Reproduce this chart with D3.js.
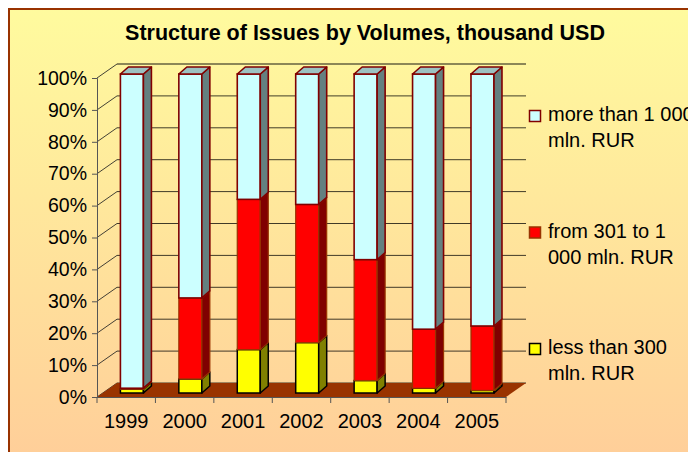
<!DOCTYPE html>
<html>
<head>
<meta charset="utf-8">
<script src="https://cdn.jsdelivr.net/npm/d3@7"></script>
<style>
  body { margin: 0; background: #fff; }
  svg { display: block; font-family: "Liberation Sans", Arial, sans-serif; }
</style>
</head>
<body>
<svg id="chart" width="688" height="452"></svg>
<script>
// values, percent of issues per year
const years = ['1999', '2000', '2001', '2002', '2003', '2004', '2005'];
const lessThan300 = [1.2, 4.4, 13.6, 15.8, 3.9, 1.5, 0.8];
const from301to1000 = [0.3, 25.4, 47.1, 43.3, 37.9, 18.5, 20.2];
const moreThan1000 = [98.5, 70.2, 39.3, 40.9, 58.2, 80.0, 79.0];
const seriesKeys = ['less', 'mid', 'more'];
const legendLabels = [
    ['more than 1 000', 'mln. RUR'],
    ['from 301 to 1', '000 mln. RUR'],
    ['less than 300', 'mln. RUR']
];
const yTicks = [0, 10, 20, 30, 40, 50, 60, 70, 80, 90, 100];
const title = 'Structure of Issues by Volumes, thousand USD';

// colours for each series: front, side, top, border
const styles = {
    less: { front: '#FFFF00', side: '#808000', top: '#CCCC00', stroke: '#000000', sw: 1.5 },
    mid:  { front: '#FF0000', side: '#800000', top: '#CC0000', stroke: '#993300', sw: 1.2 },
    more: { front: '#CCFFFF', side: '#648080', top: '#9CC2C2', stroke: '#800000', sw: 1.6 }
};

const width = 688;
const height = 452;
const depthX = 20, depthY = -14;      // depth of the 3d box
const barShiftX = 5.7, barShiftY = -4; // bars sit a bit behind the front plane
const barW = 23, barDX = 8, barDY = -7;

const svg = d3.select('#chart');

const defs = svg.append('defs');
const grad = defs.append('linearGradient')
    .attr('id', 'bg')
    .attr('x1', 0).attr('y1', 0).attr('x2', 0).attr('y2', 1);
grad.append('stop').attr('offset', 0).attr('stop-color', '#FFFB9E');
grad.append('stop').attr('offset', 1).attr('stop-color', '#FFCC99');

svg.append('rect')
    .attr('width', width).attr('height', height)
    .attr('fill', '#fff');

// chart area, runs off the right and bottom edge
svg.append('rect')
    .attr('x', 9).attr('y', 9)
    .attr('width', width + 20).attr('height', height + 20)
    .attr('fill', 'url(#bg)')
    .attr('stroke', '#993300')
    .attr('stroke-width', 2);

svg.append('text')
    .attr('x', 365).attr('y', 40)
    .attr('text-anchor', 'middle')
    .attr('font-size', 21.5)
    .attr('font-weight', 'bold')
    .attr('fill', '#000')
    .text(title);

const x = d3.scaleBand().domain(years).range([97, 506]);
const y = d3.scaleLinear().domain([0, 100]).range([397, 78]);

const x0 = x.range()[0], x1 = x.range()[1];

// back wall gridlines and side wall diagonals
const walls = svg.append('g');
yTicks.forEach(t => {
    walls.append('line')
        .attr('x1', x0 + depthX).attr('x2', x1 + depthX)
        .attr('y1', y(t) + depthY).attr('y2', y(t) + depthY)
        .attr('stroke', '#000')
        .attr('stroke-opacity', t === 100 ? 0.9 : 0.75);
    walls.append('line')
        .attr('x1', x0).attr('y1', y(t))
        .attr('x2', x0 + depthX).attr('y2', y(t) + depthY)
        .attr('stroke', '#222')
        .attr('stroke-opacity', 0.85);
});

// floor
svg.append('polygon')
    .attr('points', [
        [x0, y(0)], [x1, y(0)],
        [x1 + depthX, y(0) + depthY], [x0 + depthX, y(0) + depthY]
    ].join(' '))
    .attr('fill', '#993300');

// stacked bars
const table = years.map((yr, i) => ({
    year: yr,
    less: lessThan300[i],
    mid: from301to1000[i],
    more: moreThan1000[i]
}));
const stacked = d3.stack().keys(seriesKeys)(table);

years.forEach((yr, i) => {
    const g = svg.append('g');
    const left = x(yr) + x.bandwidth() / 2 + barShiftX - barW / 2;
    const right = left + barW;
    stacked.forEach((layer, li) => {
        const st = styles[layer.key];
        const yb = y(layer[i][0]) + barShiftY;
        const yt = y(layer[i][1]) + barShiftY;
        g.append('rect')
            .attr('x', left).attr('y', yt)
            .attr('width', barW).attr('height', yb - yt)
            .attr('fill', st.front)
            .attr('stroke', st.stroke)
            .attr('stroke-width', st.sw);
        g.append('polygon')
            .attr('points', [
                [right, yt], [right + barDX, yt + barDY],
                [right + barDX, yb + barDY], [right, yb]
            ].join(' '))
            .attr('fill', st.side)
            .attr('stroke', st.stroke)
            .attr('stroke-width', st.sw)
            .attr('stroke-linejoin', 'round');
        if (li === stacked.length - 1) {
            g.append('polygon')
                .attr('points', [
                    [left, yt], [right, yt],
                    [right + barDX, yt + barDY], [left + barDX, yt + barDY]
                ].join(' '))
                .attr('fill', st.top)
                .attr('stroke', st.stroke)
                .attr('stroke-width', st.sw)
                .attr('stroke-linejoin', 'round');
        }
    });
});

// y axis
const yAxis = svg.append('g')
    .attr('transform', `translate(${x0},0)`)
    .call(d3.axisLeft(y).tickValues(yTicks).tickFormat(d => d + '%').tickSize(5).tickPadding(5));
yAxis.select('.domain').attr('stroke', '#555');
yAxis.selectAll('.tick line').attr('stroke', '#555');
yAxis.selectAll('text')
    .attr('font-size', 19.5)
    .attr('font-family', '"Liberation Sans", Arial, sans-serif')
    .attr('fill', '#000');

// x axis, ticks between categories
const xAxis = svg.append('g')
    .attr('transform', `translate(0,${y(0)})`)
    .call(d3.axisBottom(x).tickSize(0).tickPadding(17));
xAxis.select('.domain').attr('stroke', '#555');
xAxis.selectAll('text')
    .attr('font-size', 20)
    .attr('font-family', '"Liberation Sans", Arial, sans-serif')
    .attr('fill', '#000');
xAxis.selectAll('.sep')
    .data(years.map(d => x(d)).concat([x1]))
    .enter().append('line')
    .attr('x1', d => d).attr('x2', d => d)
    .attr('y1', 0).attr('y2', 6)
    .attr('stroke', '#555');

// legend
const legend = svg.append('g').attr('transform', 'translate(529,110)');
const legendKeys = seriesKeys.slice().reverse();
legendKeys.forEach((k, i) => {
    const st = styles[k];
    const item = legend.append('g').attr('transform', `translate(0,${i * 116.5})`);
    item.append('rect')
        .attr('x', 0.5).attr('y', 0.5)
        .attr('width', 11).attr('height', 11)
        .attr('fill', st.front)
        .attr('stroke', st.stroke)
        .attr('stroke-width', 1.5);
    legendLabels[i].forEach((line, j) => {
        item.append('text')
            .attr('x', 19).attr('y', 11 + j * 26)
            .attr('font-size', 20)
            .attr('fill', '#000')
            .text(line);
    });
});
</script>
</body>
</html>
